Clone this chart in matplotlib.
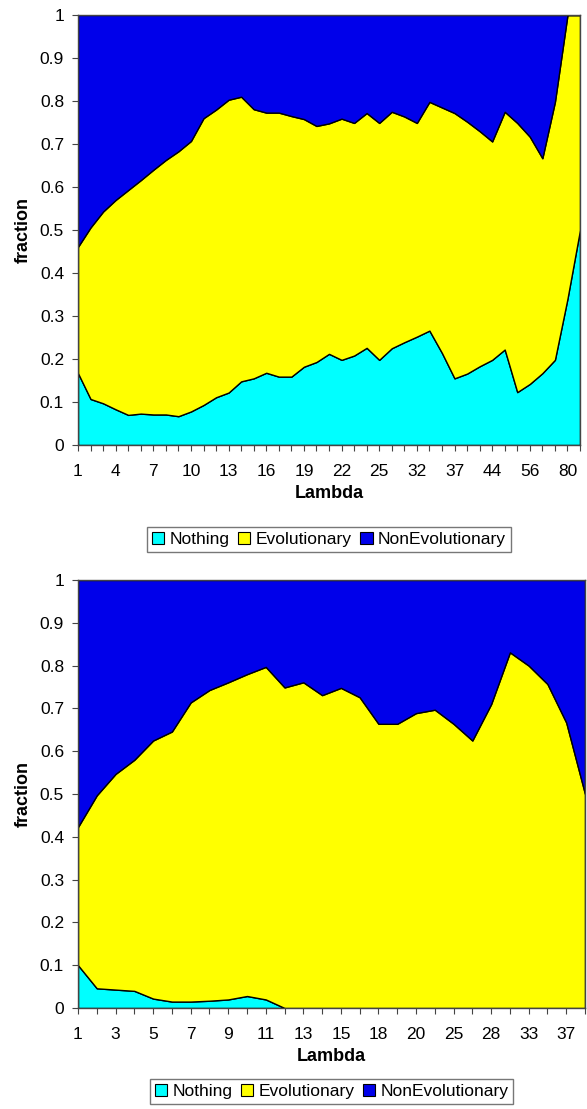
import numpy as np
import matplotlib
matplotlib.use('Agg')
import matplotlib.pyplot as plt

plt.rcParams['font.family'] = ['Liberation Sans', 'DejaVu Sans']

# top panel: 41 lambda values, labels shown every third
top_lambda = ['1', '2', '3', '4', '5', '6', '7', '8', '9', '10', '11', '12', '13',
              '14', '15', '16', '17', '18', '19', '20', '21', '22', '23', '24', '25',
              '27', '29', '32', '33', '35', '37', '39', '41', '44', '48', '52', '56',
              '64', '72', '80', '100']
top_nothing = [0.167, 0.107, 0.097, 0.083, 0.070, 0.073, 0.071, 0.071, 0.067, 0.078,
               0.093, 0.111, 0.122, 0.148, 0.155, 0.168, 0.159, 0.159, 0.182, 0.193,
               0.212, 0.198, 0.208, 0.226, 0.198, 0.225, 0.239, 0.252, 0.266, 0.214,
               0.155, 0.166, 0.183, 0.198, 0.222, 0.123, 0.142, 0.167, 0.198, 0.340,
               0.500]
top_evo_upper = [0.461, 0.506, 0.543, 0.570, 0.593, 0.616, 0.640, 0.663, 0.683, 0.707,
                 0.760, 0.780, 0.803, 0.810, 0.781, 0.773, 0.773, 0.765, 0.758, 0.742,
                 0.748, 0.759, 0.749, 0.772, 0.749, 0.775, 0.764, 0.749, 0.798, 0.785,
                 0.772, 0.752, 0.730, 0.706, 0.775, 0.749, 0.717, 0.667, 0.798, 1.0,
                 1.0]

# bottom panel: 28 lambda values, labels shown every second
bot_lambda = ['1', '2', '3', '4', '5', '6', '7', '8', '9', '10', '11', '12', '13',
              '14', '15', '16', '18', '19', '20', '22', '25', '26', '28', '30', '33',
              '35', '37', '40']
bot_nothing = [0.100, 0.046, 0.043, 0.040, 0.022, 0.015, 0.015, 0.017, 0.020, 0.028,
               0.020, 0.0, 0.0, 0.0, 0.0, 0.0, 0.0, 0.0, 0.0, 0.0, 0.0, 0.0, 0.0,
               0.0, 0.0, 0.0, 0.0, 0.0]
bot_evo_upper = [0.423, 0.497, 0.547, 0.580, 0.625, 0.646, 0.714, 0.743, 0.761, 0.780,
                 0.797, 0.749, 0.761, 0.731, 0.748, 0.726, 0.664, 0.664, 0.689, 0.697,
                 0.664, 0.625, 0.710, 0.831, 0.800, 0.757, 0.667, 0.500]

series_names = ['Nothing', 'Evolutionary', 'NonEvolutionary']
colors = ['#00ffff', '#ffff00', '#0000ea']


def draw_panel(ax, lambdas, nothing, upper, step, leg_y):
    x = np.arange(len(lambdas))
    nothing = np.array(nothing)
    evo = np.array(upper) - nothing
    nonevo = 1.0 - np.array(upper)
    ax.stackplot(x, nothing, evo, nonevo, colors=colors, labels=series_names,
                 edgecolor='black', linewidth=1.0)
    ax.set_xlim(0, len(lambdas) - 1)
    ax.set_ylim(0, 1)
    ax.set_xticks(x)
    ax.set_xticklabels([l if i % step == 0 else '' for i, l in enumerate(lambdas)])
    ax.set_yticks(np.arange(0, 1.01, 0.1))
    ax.set_yticklabels(['0', '0.1', '0.2', '0.3', '0.4', '0.5', '0.6', '0.7', '0.8',
                        '0.9', '1'])
    ax.tick_params(axis='both', labelsize=12.5, length=4, width=0.8, color='#444444')
    ax.tick_params(axis='x', pad=10)
    ax.tick_params(axis='y', pad=6)
    for s in ax.spines.values():
        s.set_color('#444444')
        s.set_linewidth(1.0)
    ax.set_xlabel('Lambda', fontsize=13, fontweight='bold', labelpad=4)
    ax.set_ylabel('fraction', fontsize=13, fontweight='bold', labelpad=6)
    leg = ax.legend(loc='upper center', bbox_to_anchor=(0.5, leg_y), ncol=3,
                    fontsize=12.5, frameon=True, fancybox=False, edgecolor='#555555',
                    handlelength=0.7, handleheight=0.7, handletextpad=0.3,
                    columnspacing=0.5, borderpad=0.3)
    for h in leg.legend_handles:
        h.set_edgecolor('black')
        h.set_linewidth(0.8)


fig = plt.figure(figsize=(5.87, 11.09), dpi=100)
ax1 = fig.add_axes([78 / 587, 1 - 445 / 1109, 502 / 587, 430 / 1109])
ax2 = fig.add_axes([78 / 587, 1 - 1008 / 1109, 507 / 587, 428 / 1109])

draw_panel(ax1, top_lambda, top_nothing, top_evo_upper, 3, -0.17)
draw_panel(ax2, bot_lambda, bot_nothing, bot_evo_upper, 2, -0.145)

fig.savefig('out.png', dpi=100)
